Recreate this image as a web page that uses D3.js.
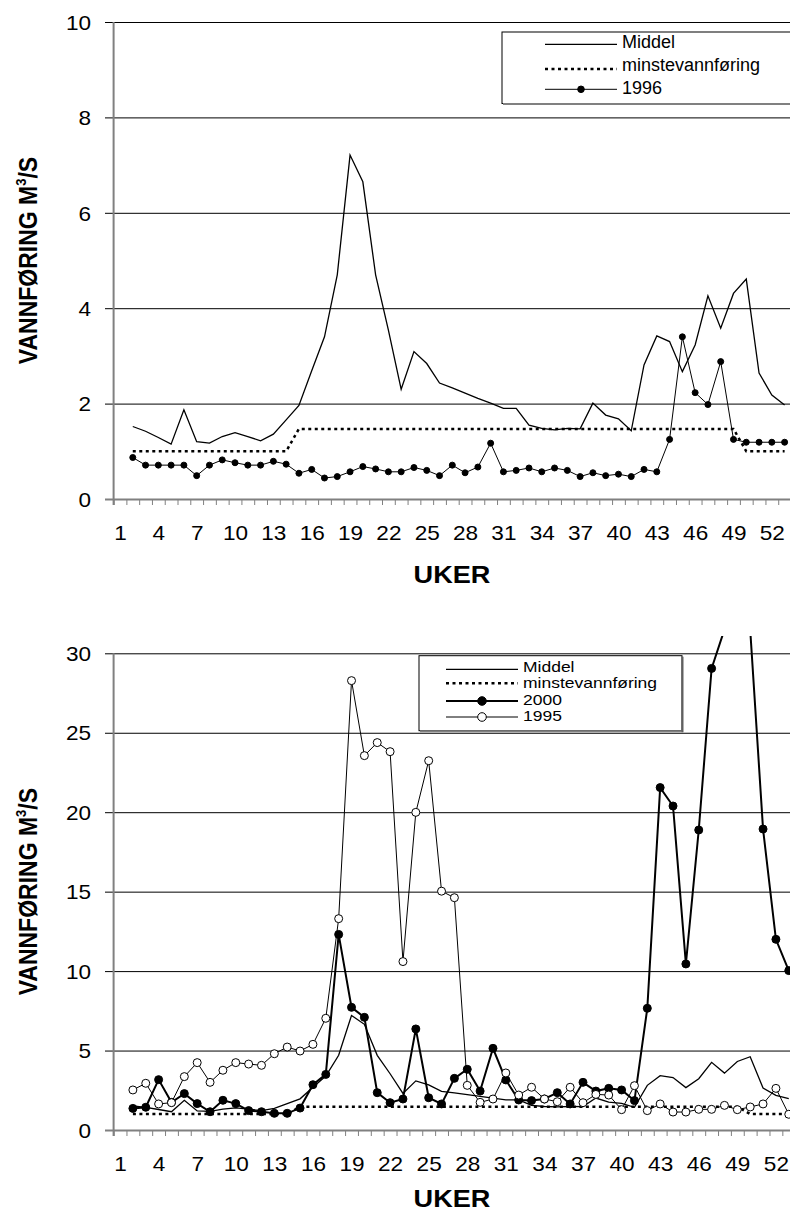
<!DOCTYPE html>
<html lang="no">
<head>
<meta charset="utf-8">
<title>Vannføring</title>
<script src="https://cdn.jsdelivr.net/npm/d3@7"></script>
<style>
body { margin: 0; background: #fff; }
svg { display: block; font-family: Arial, "Liberation Sans", sans-serif; }
</style>
</head>
<body>
<script>
var w = 790, h = 1214;

// uke 2..53
var weeks = [2,3,4,5,6,7,8,9,10,11,12,13,14,15,16,17,18,19,20,21,22,23,24,25,26,27,
             28,29,30,31,32,33,34,35,36,37,38,39,40,41,42,43,44,45,46,47,48,49,50,51,52,53];
var weekLabels = [1,4,7,10,13,16,19,22,25,28,31,34,37,40,43,46,49,52];

var middel = [1.52,1.42,1.29,1.15,1.87,1.20,1.17,1.31,1.39,1.31,1.22,1.36,1.66,1.96,
              2.69,3.40,4.70,7.21,6.65,4.70,3.54,2.30,3.09,2.84,2.43,
              2.33,2.22,2.11,2.01,1.90,1.90,1.55,1.48,1.45,1.48,1.47,2.01,1.76,1.68,1.43,
              2.81,3.42,3.30,2.67,3.23,4.26,3.58,4.31,4.61,2.64,2.18,1.97];
var minste = [1.0,1.0,1.0,1.0,1.0,1.0,1.0,1.0,1.0,1.0,1.0,1.0,1.0,
              1.47,1.47,1.47,1.47,1.47,1.47,1.47,1.47,1.47,1.47,1.47,1.47,1.47,1.47,1.47,
              1.47,1.47,1.47,1.47,1.47,1.47,1.47,1.47,1.47,1.47,1.47,1.47,1.47,1.47,1.47,
              1.47,1.47,1.47,1.47,1.47,
              1.0,1.0,1.0,1.0];
var flow1996 = [0.87,0.71,0.71,0.71,0.71,0.49,0.71,0.82,0.76,0.71,0.71,0.79,0.73,0.54,
                0.62,0.44,0.47,0.57,0.68,0.63,0.57,0.57,0.66,0.60,0.49,0.71,0.55,0.67,
                1.17,0.57,0.60,0.65,0.57,0.65,0.60,0.47,0.55,0.49,0.52,0.47,0.62,0.57,
                1.25,3.40,2.23,1.98,2.88,1.25,1.19,1.19,1.19,1.19];
var flow2000 = [1.36,1.43,3.17,1.74,2.29,1.66,1.15,1.87,1.66,
                1.22,1.15,1.05,1.05,1.38,2.85,3.50,12.31,7.72,7.09,
                2.35,1.72,1.95,6.36,2.03,1.64,3.25,3.82,2.45,5.14,
                3.15,1.89,1.85,1.95,2.35,1.64,3.00,2.45,2.62,2.52,
                1.85,7.66,21.55,20.39,10.45,18.88,29.05,31.5,33.0,31.5,
                18.94,12.0,10.03];
var flow1995 = [2.52,2.94,1.64,1.72,3.36,4.24,3.00,3.76,4.24,
                4.15,4.07,4.80,5.22,4.97,5.39,7.03,13.3,28.28,23.56,
                24.38,23.81,10.6,19.99,23.24,15.03,14.62,2.81,1.74,1.95,
                3.59,2.20,2.69,1.95,1.78,2.69,1.72,2.24,2.20,1.28,
                2.79,1.22,1.64,1.13,1.13,1.30,1.30,1.55,1.28,1.45,
                1.64,2.62,0.99];

var topTicks = [0,2,4,6,8,10];
var bottomTicks = [0,5,10,15,20,25,30];

var svg = d3.select("body").append("svg")
  .attr("width", w)
  .attr("height", h);

var defs = svg.append("defs");

function drawPanel(p) {
  var x = d3.scaleLinear().domain([0.5, 53.5]).range([p.left, p.right]);
  var y = d3.scaleLinear().domain([0, p.yMax]).range([p.bottom, p.top]);
  var g = svg.append("g");

  // gridlines + verdier
  var gy = g.append("g")
    .attr("transform", "translate(" + p.left + ",0)")
    .call(d3.axisLeft(y).tickValues(p.yTicks).tickSize(-(w - p.left)).tickSizeOuter(0))
    .attr("font-size", null)
    .attr("font-family", null);
  gy.select(".domain").remove();
  gy.selectAll(".tick line")
    .attr("x1", -8.6)
    .attr("stroke", function(d) { return d === 0 ? "#808080" : "#000"; })
    .attr("stroke-width", function(d) { return d === 0 ? 2 : 1; });
  gy.selectAll(".tick text")
    .attr("x", -20)
    .attr("dy", "0.36em")
    .attr("font-size", 20)
    .attr("fill", "#000")
    .attr("transform", "scale(1.13,1)");

  // y-akse
  g.append("line")
    .attr("x1", p.left).attr("x2", p.left)
    .attr("y1", p.top).attr("y2", p.bottom + 6)
    .attr("stroke", "#808080")
    .attr("stroke-width", 2);

  // små streker mellom ukene
  var gx = g.append("g")
    .attr("transform", "translate(0," + p.bottom + ")")
    .call(d3.axisBottom(x).tickValues(d3.range(0.5, 54, 1)).tickSize(6).tickFormat(""));
  gx.select(".domain").remove();
  gx.selectAll(".tick line").attr("stroke", "#808080");

  // ukenummer
  var gl = g.append("g")
    .attr("transform", "translate(0," + p.bottom + ")")
    .call(d3.axisBottom(x).tickValues(weekLabels).tickSize(0))
    .attr("font-size", null)
    .attr("font-family", null);
  gl.select(".domain").remove();
  gl.selectAll(".tick text")
    .attr("y", 41)
    .attr("dy", null)
    .attr("font-size", 20)
    .attr("fill", "#000")
    .attr("transform", "scale(1.13,1)");

  // akse titler
  var title = g.append("text")
    .attr("transform", "translate(36.5," + (p.top + p.bottom) / 2 + ") rotate(-90) scale(1,1.13)")
    .attr("text-anchor", "middle")
    .attr("font-weight", "bold")
    .attr("font-size", 23);
  title.append("tspan").text("VANNFØRING M");
  title.append("tspan").attr("font-size", 13).attr("dy", -9).text("3");
  title.append("tspan").attr("dy", 9).text("/S");

  g.append("text")
    .attr("transform", "translate(452," + (p.bottom + p.xTitleGap) + ") scale(1.13,1)")
    .attr("text-anchor", "middle")
    .attr("font-weight", "bold")
    .attr("font-size", 24)
    .text("UKER");

  // serier
  defs.append("clipPath").attr("id", p.id)
    .append("rect")
    .attr("x", p.left).attr("y", p.clipTop)
    .attr("width", w - p.left).attr("height", p.bottom - p.clipTop + 10);

  var line = d3.line()
    .x(function(d) { return x(d[0]); })
    .y(function(d) { return y(d[1]); });

  var sg = g.append("g").attr("clip-path", "url(#" + p.id + ")");
  p.series.forEach(function(s) {
    var data = d3.zip(weeks, s.values);
    sg.append("path")
      .datum(data)
      .attr("d", line)
      .attr("fill", "none")
      .attr("stroke", "#000")
      .attr("stroke-width", s.width)
      .attr("stroke-dasharray", s.dash || null);
    if (s.marker) {
      sg.selectAll(null)
        .data(data)
        .enter()
        .append("circle")
        .attr("cx", function(d) { return x(d[0]); })
        .attr("cy", function(d) { return y(d[1]); })
        .attr("r", s.r)
        .attr("fill", s.marker === "open" ? "#fff" : "#000")
        .attr("stroke", "#000")
        .attr("stroke-width", 1);
    }
  });

  // tegnforklaring
  var L = p.legend;
  var lg = svg.append("g");
  lg.append("rect")
    .attr("x", L.x).attr("y", L.y)
    .attr("width", L.w).attr("height", L.h)
    .attr("fill", "#fff")
    .attr("stroke", "#000")
    .attr("stroke-width", 1);
  lg.append("line")
    .attr("x1", L.x + 1).attr("x2", L.x + L.w + 1)
    .attr("y1", L.y + L.h + 0.5).attr("y2", L.y + L.h + 0.5)
    .attr("stroke", "#808080").attr("stroke-width", 2);
  if (L.x + L.w < w) {
    lg.append("line")
      .attr("x1", L.x + L.w + 0.5).attr("x2", L.x + L.w + 0.5)
      .attr("y1", L.y + 1).attr("y2", L.y + L.h + 1.5)
      .attr("stroke", "#606060").attr("stroke-width", 2);
  }
  L.rows.forEach(function(r, i) {
    var s = p.series[i];
    lg.append("line")
      .attr("x1", L.sx1).attr("x2", L.sx2)
      .attr("y1", r.ly).attr("y2", r.ly)
      .attr("stroke", "#000")
      .attr("stroke-width", s.width)
      .attr("stroke-dasharray", s.dash || null);
    if (s.marker) {
      lg.append("circle")
        .attr("cx", (L.sx1 + L.sx2) / 2).attr("cy", r.ly)
        .attr("r", s.r + 0.3)
        .attr("fill", s.marker === "open" ? "#fff" : "#000")
        .attr("stroke", "#000");
    }
    lg.append("text")
      .attr("transform", "translate(" + L.tx + "," + r.ty + ") scale(" + L.sx + ",1)")
      .attr("font-size", L.fs)
      .text(r.label);
  });
}

drawPanel({
  id: "clipTop",
  left: 113.6, right: 791, top: 22, bottom: 499, clipTop: 0, xTitleGap: 84,
  yMax: 10, yTicks: topTicks,
  series: [
    { values: middel, width: 1.3 },
    { values: minste, width: 2.5, dash: "3,3.5" },
    { values: flow1996, width: 1, marker: "filled", r: 3 }
  ],
  legend: {
    x: 502, y: 32, w: 300, h: 71.5, sx1: 545, sx2: 617, tx: 622, sx: 1, fs: 18,
    rows: [
      { label: "Middel", ly: 44.3, ty: 48.3 },
      { label: "minstevannføring", ly: 69, ty: 71 },
      { label: "1996", ly: 89.3, ty: 94 }
    ]
  }
});

drawPanel({
  id: "clipBottom",
  left: 113.6, right: 795.2, top: 653.3, bottom: 1130, clipTop: 636, xTitleGap: 77,
  yMax: 30, yTicks: bottomTicks,
  series: [
    { values: middel, width: 1.3 },
    { values: minste, width: 2.5, dash: "3,3.5" },
    { values: flow2000, width: 2, marker: "filled", r: 4 },
    { values: flow1995, width: 1, marker: "open", r: 4 }
  ],
  legend: {
    x: 419, y: 655.7, w: 263, h: 75, sx1: 446, sx2: 518, tx: 523, sx: 1.25, fs: 14,
    rows: [
      { label: "Middel", ly: 669.3, ty: 671.5 },
      { label: "minstevannføring", ly: 683.3, ty: 688 },
      { label: "2000", ly: 701, ty: 704.5 },
      { label: "1995", ly: 717, ty: 720.5 }
    ]
  }
});
</script>
</body>
</html>
